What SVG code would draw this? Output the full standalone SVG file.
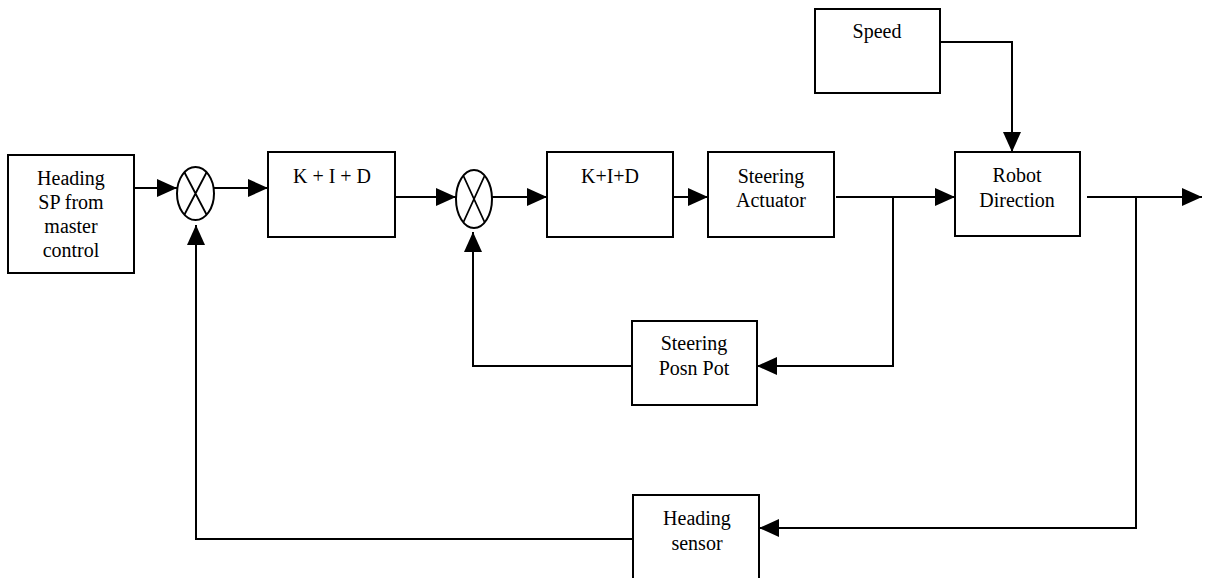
<svg xmlns="http://www.w3.org/2000/svg" width="1208" height="578" viewBox="0 0 1208 578">
  <style>
    .box { fill: #fff; stroke: #000; stroke-width: 2; }
    .sum { fill: #fff; stroke: #000; stroke-width: 2; }
    .cross { stroke: #000; stroke-width: 1.8; fill: none; }
    .wire { fill: none; stroke: #000; stroke-width: 2; }
    .lbl { font-size: 20px; fill: #000; text-anchor: middle; }
  </style>
  <defs>
    <marker id="arrow" markerUnits="userSpaceOnUse" markerWidth="22" markerHeight="20" refX="20" refY="9" orient="auto">
      <path d="M0,0 L20,9 L0,18 z" fill="#000"/>
    </marker>
  </defs>

  <rect width="1208" height="578" fill="#fff"/>

  <!-- connectors -->
  <g id="connectors">
    <path class="wire" d="M134,188 H177" marker-end="url(#arrow)"/>
    <path class="wire" d="M214,188 H268" marker-end="url(#arrow)"/>
    <path class="wire" d="M395,197 H456" marker-end="url(#arrow)"/>
    <path class="wire" d="M492,197 H547" marker-end="url(#arrow)"/>
    <path class="wire" d="M673,197 H708" marker-end="url(#arrow)"/>
    <path class="wire" d="M836,197 H955" marker-end="url(#arrow)"/>
    <path class="wire" d="M939,42 H1012 V152" marker-end="url(#arrow)"/>
    <path class="wire" d="M1087,197 H1202" marker-end="url(#arrow)"/>
    <path class="wire" d="M893,197 V366 H757" marker-end="url(#arrow)"/>
    <path class="wire" d="M632,366 H473 V232" marker-end="url(#arrow)"/>
    <path class="wire" d="M1136,197 V528 H759" marker-end="url(#arrow)"/>
    <path class="wire" d="M633,539 H196 V225" marker-end="url(#arrow)"/>
  </g>

  <!-- nodes -->
  <g font-family="Liberation Serif, Times New Roman, DejaVu Serif, serif">
  <g id="heading-sp">
    <rect class="box" x="8" y="155" width="126" height="118"/>
    <text class="lbl" x="71" y="185">Heading</text>
    <text class="lbl" x="71" y="209">SP from</text>
    <text class="lbl" x="71" y="233">master</text>
    <text class="lbl" x="71" y="257">control</text>
  </g>

  <g id="sum-outer">
    <ellipse class="sum" cx="195.5" cy="193.5" rx="18.5" ry="26.5"/>
    <path class="cross" d="M184.5,172.5 L206.5,214.5 M206.5,172.5 L184.5,214.5"/>
  </g>

  <g id="pid-heading">
    <rect class="box" x="268" y="152" width="127" height="85"/>
    <text class="lbl" x="332" y="183">K + I + D</text>
  </g>

  <g id="sum-inner">
    <ellipse class="sum" cx="474" cy="199" rx="18" ry="29"/>
    <path class="cross" d="M463.5,176 L484.5,222 M484.5,176 L463.5,222"/>
  </g>

  <g id="pid-steering">
    <rect class="box" x="547" y="152" width="126" height="85"/>
    <text class="lbl" x="610" y="183">K+I+D</text>
  </g>

  <g id="steering-actuator">
    <rect class="box" x="708" y="152" width="126" height="85"/>
    <text class="lbl" x="771" y="183">Steering</text>
    <text class="lbl" x="771" y="207">Actuator</text>
  </g>

  <g id="speed">
    <rect class="box" x="815" y="9" width="125" height="84"/>
    <text class="lbl" x="877" y="38">Speed</text>
  </g>

  <g id="robot-direction">
    <rect class="box" x="955" y="152" width="125" height="84"/>
    <text class="lbl" x="1017" y="182">Robot</text>
    <text class="lbl" x="1017" y="207">Direction</text>
  </g>

  <g id="steering-posn-pot">
    <rect class="box" x="632" y="321" width="125" height="84"/>
    <text class="lbl" x="694" y="350">Steering</text>
    <text class="lbl" x="694" y="375">Posn Pot</text>
  </g>

  <g id="heading-sensor">
    <rect class="box" x="633" y="495" width="126" height="90"/>
    <text class="lbl" x="697" y="525">Heading</text>
    <text class="lbl" x="697" y="550">sensor</text>
  </g>
  </g>
</svg>
